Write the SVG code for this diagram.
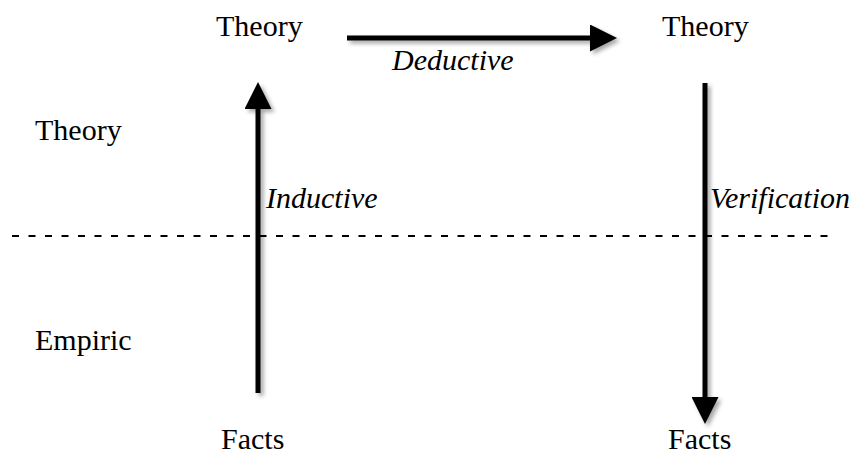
<svg xmlns="http://www.w3.org/2000/svg" width="854" height="457" viewBox="0 0 854 457">
  <defs>
    <filter id="shadow" x="-20%" y="-20%" width="160%" height="160%">
      <feGaussianBlur in="SourceAlpha" stdDeviation="2"/>
      <feOffset dx="3" dy="3" result="b"/>
      <feComponentTransfer><feFuncA type="linear" slope="0.35"/></feComponentTransfer>
      <feMerge><feMergeNode/><feMergeNode in="SourceGraphic"/></feMerge>
    </filter>
    <marker id="head" viewBox="0 0 10 10" refX="0" refY="5" markerWidth="5.4" markerHeight="5.4" markerUnits="strokeWidth" orient="auto">
      <path d="M0,0 L10,5 L0,10 Z" fill="#000"/>
    </marker>
  </defs>
  <style>
    text { font-family: "Liberation Serif", "Times New Roman", serif; font-size: 30px; fill: #000; }
    .lbl { font-style: italic; }
    .arrow { stroke: #000; stroke-width: 5; fill: none; marker-end: url(#head); }
    .divider { stroke: #000; stroke-width: 2; stroke-dasharray: 7 9.5; }
  </style>

  <g id="levels">
    <text x="35" y="140">Theory</text>
    <text x="35" y="350">Empiric</text>
  </g>
  <line class="divider" x1="12" y1="236" x2="828" y2="236"/>

  <g id="theory-left"><text x="216" y="36">Theory</text></g>
  <g id="theory-right"><text x="662" y="36">Theory</text></g>
  <g id="facts-left"><text x="221" y="449">Facts</text></g>
  <g id="facts-right"><text x="668" y="449">Facts</text></g>

  <g id="connectors" filter="url(#shadow)">
    <line class="arrow" x1="347" y1="38" x2="590" y2="38"/>
    <line class="arrow" x1="258" y1="393" x2="258" y2="109"/>
    <line class="arrow" x1="705" y1="83" x2="705" y2="397"/>
  </g>

  <g id="labels">
    <text class="lbl" x="392" y="70">Deductive</text>
    <text class="lbl" x="266" y="208">Inductive</text>
    <text class="lbl" x="710" y="208">Verification</text>
  </g>
</svg>
